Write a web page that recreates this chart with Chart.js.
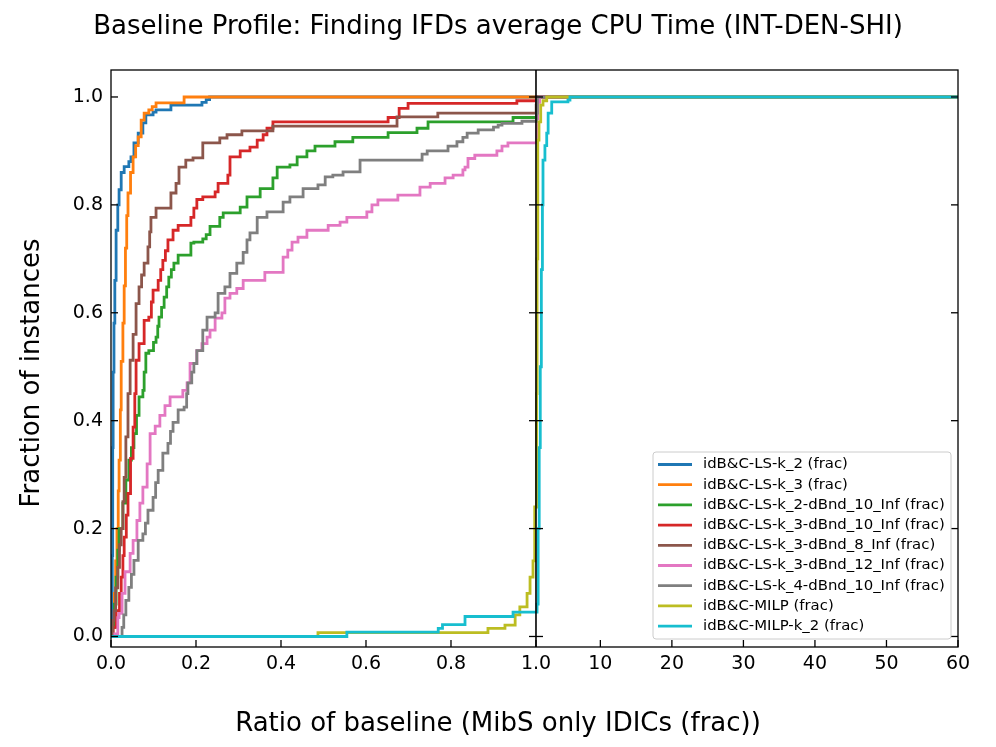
<!DOCTYPE html>
<html>
<head>
<meta charset="utf-8">
<script src="https://cdn.jsdelivr.net/npm/chart.js@4.4.1/dist/chart.umd.min.js"></script>
<style>
  html, body { margin: 0; padding: 0; background: #fff; }
  #wrap { width: 996px; height: 747px; position: relative; }
</style>
</head>
<body>
<div id="wrap"><canvas id="profileChart"></canvas></div>
<script>
// --- DATA (points are [ratio, fraction]; the curve jumps to fraction at ratio) ---
const SERIES_LABELS = [
    'idB&C-LS-k_2 (frac)',
    'idB&C-LS-k_3 (frac)',
    'idB&C-LS-k_2-dBnd_10_Inf (frac)',
    'idB&C-LS-k_3-dBnd_10_Inf (frac)',
    'idB&C-LS-k_3-dBnd_8_Inf (frac)',
    'idB&C-LS-k_3-dBnd_12_Inf (frac)',
    'idB&C-LS-k_4-dBnd_10_Inf (frac)',
    'idB&C-MILP (frac)',
    'idB&C-MILP-k_2 (frac)'
];
const SERIES_COLORS = ['#1f77b4', '#ff7f0e', '#2ca02c', '#d62728', '#8c564b', '#e377c2', '#7f7f7f', '#bcbd22', '#17becf'];

const LS_K2 = [[0,0],[0.003,0.15],[0.004,0.35],[0.005,0.49],[0.007,0.581],[0.009,0.66],[0.012,0.753],[0.016,0.80],[0.019,0.828],[0.024,0.86],[0.031,0.871],[0.042,0.88],[0.047,0.889],[0.054,0.915],[0.064,0.933],[0.075,0.952],[0.082,0.967],[0.099,0.972],[0.106,0.976],[0.141,0.985],[0.214,0.99],[0.224,0.995],[0.232,1.0],[60,1.0]];
const LS_K3 = [[0,0],[0.004,0.017],[0.008,0.08],[0.011,0.14],[0.014,0.20],[0.017,0.27],[0.019,0.327],[0.022,0.42],[0.024,0.51],[0.028,0.581],[0.031,0.65],[0.034,0.72],[0.037,0.78],[0.040,0.822],[0.046,0.86],[0.052,0.889],[0.058,0.91],[0.064,0.926],[0.071,0.957],[0.078,0.97],[0.089,0.976],[0.097,0.982],[0.106,0.989],[0.172,1.0],[60,1.0]];
const LS_K2_D10 = [[0,0],[0.004,0.017],[0.008,0.06],[0.012,0.11],[0.016,0.16],[0.019,0.20],[0.028,0.247],[0.035,0.29],[0.042,0.327],[0.048,0.35],[0.054,0.376],[0.060,0.41],[0.066,0.444],[0.075,0.456],[0.078,0.49],[0.082,0.525],[0.089,0.53],[0.100,0.545],[0.106,0.555],[0.110,0.575],[0.113,0.592],[0.119,0.61],[0.125,0.629],[0.131,0.648],[0.136,0.666],[0.142,0.68],[0.148,0.692],[0.158,0.707],[0.188,0.729],[0.195,0.731],[0.216,0.737],[0.224,0.745],[0.233,0.76],[0.256,0.777],[0.264,0.785],[0.304,0.796],[0.32,0.815],[0.351,0.83],[0.381,0.85],[0.391,0.87],[0.421,0.874],[0.438,0.889],[0.461,0.90],[0.48,0.909],[0.527,0.917],[0.569,0.925],[0.652,0.934],[0.72,0.942],[0.746,0.954],[0.946,0.962],[1.15,1.0],[60,1.0]];
const LS_K3_D10 = [[0,0],[0.005,0.017],[0.012,0.048],[0.020,0.08],[0.024,0.11],[0.028,0.15],[0.031,0.184],[0.036,0.225],[0.040,0.265],[0.046,0.33],[0.052,0.388],[0.056,0.45],[0.059,0.512],[0.066,0.543],[0.078,0.586],[0.089,0.592],[0.095,0.62],[0.099,0.642],[0.111,0.66],[0.117,0.68],[0.122,0.697],[0.128,0.715],[0.134,0.735],[0.146,0.753],[0.158,0.762],[0.188,0.777],[0.195,0.794],[0.202,0.81],[0.216,0.815],[0.245,0.824],[0.252,0.84],[0.275,0.855],[0.28,0.889],[0.304,0.90],[0.327,0.907],[0.344,0.92],[0.358,0.93],[0.367,0.942],[0.381,0.954],[0.652,0.962],[0.678,0.979],[0.699,0.988],[0.955,0.993],[1.05,1.0],[60,1.0]];
const LS_K3_D8 = [[0,0],[0.004,0.03],[0.007,0.048],[0.011,0.09],[0.016,0.128],[0.020,0.17],[0.024,0.20],[0.028,0.25],[0.031,0.295],[0.035,0.37],[0.040,0.45],[0.045,0.512],[0.052,0.56],[0.059,0.617],[0.066,0.648],[0.072,0.67],[0.078,0.692],[0.087,0.722],[0.091,0.75],[0.094,0.777],[0.106,0.794],[0.141,0.822],[0.153,0.84],[0.160,0.87],[0.176,0.883],[0.193,0.887],[0.216,0.915],[0.256,0.924],[0.273,0.93],[0.308,0.937],[0.381,0.946],[0.673,0.963],[0.769,0.97],[1.03,0.985],[1.08,1.0],[60,1.0]];
const LS_K3_D12 = [[0,0],[0.009,0.005],[0.016,0.035],[0.019,0.043],[0.026,0.08],[0.033,0.12],[0.045,0.154],[0.052,0.178],[0.061,0.215],[0.068,0.247],[0.075,0.277],[0.085,0.32],[0.092,0.376],[0.104,0.39],[0.115,0.41],[0.127,0.428],[0.139,0.444],[0.169,0.456],[0.179,0.47],[0.186,0.506],[0.202,0.53],[0.214,0.543],[0.226,0.555],[0.233,0.568],[0.245,0.59],[0.261,0.60],[0.268,0.627],[0.28,0.636],[0.296,0.645],[0.311,0.66],[0.362,0.675],[0.405,0.703],[0.416,0.716],[0.426,0.731],[0.44,0.74],[0.461,0.753],[0.511,0.762],[0.539,0.768],[0.555,0.777],[0.602,0.787],[0.614,0.80],[0.628,0.809],[0.675,0.818],[0.727,0.833],[0.751,0.84],[0.786,0.85],[0.805,0.855],[0.828,0.865],[0.833,0.87],[0.84,0.886],[0.856,0.892],[0.908,0.90],[0.92,0.909],[0.934,0.915],[1.1,0.96],[1.25,0.99],[1.5,1.0],[60,1.0]];
const LS_K4_D10 = [[0,0],[0.026,0.017],[0.030,0.04],[0.035,0.067],[0.042,0.091],[0.048,0.115],[0.054,0.141],[0.064,0.178],[0.075,0.19],[0.081,0.21],[0.087,0.234],[0.099,0.258],[0.105,0.285],[0.111,0.308],[0.122,0.34],[0.134,0.358],[0.140,0.38],[0.146,0.397],[0.158,0.42],[0.172,0.425],[0.178,0.45],[0.181,0.47],[0.190,0.49],[0.195,0.506],[0.202,0.53],[0.216,0.568],[0.226,0.592],[0.245,0.60],[0.252,0.636],[0.268,0.648],[0.28,0.673],[0.296,0.692],[0.311,0.712],[0.32,0.735],[0.327,0.748],[0.344,0.777],[0.367,0.787],[0.405,0.805],[0.421,0.815],[0.452,0.83],[0.487,0.837],[0.504,0.852],[0.522,0.855],[0.546,0.861],[0.586,0.883],[0.732,0.894],[0.744,0.90],[0.793,0.909],[0.814,0.917],[0.828,0.925],[0.838,0.933],[0.864,0.939],[0.90,0.944],[0.911,0.948],[0.92,0.951],[0.967,0.955],[1.1,0.97],[1.2,1.0],[60,1.0]];
const MILP = [[0,0],[0.487,0.007],[0.887,0.015],[0.927,0.021],[0.951,0.04],[0.962,0.055],[0.979,0.08],[0.986,0.11],[0.993,0.14],[0.997,0.24],[1.08,0.45],[1.15,0.7],[1.25,0.92],[1.42,0.954],[1.66,0.985],[1.98,0.993],[2.5,1.0],[60,1.0]];
const MILP_K2 = [[0,0],[0.555,0.008],[0.77,0.015],[0.78,0.022],[0.833,0.037],[0.946,0.045],[1.15,0.06],[1.3,0.2],[1.45,0.35],[1.6,0.5],[1.75,0.68],[1.9,0.8],[1.98,0.883],[2.25,0.91],[2.5,0.933],[2.7,0.97],[3.2,0.991],[5.47,0.994],[5.75,1.0],[60,1.0]];

const SERIES = [LS_K2, LS_K3, LS_K2_D10, LS_K3_D10, LS_K3_D8, LS_K3_D12, LS_K4_D10, MILP, MILP_K2];

const X_TICKS = [0, 0.2, 0.4, 0.6, 0.8, 1.0, 10, 20, 30, 40, 50, 60];
const X_TICK_LABELS = ['0.0', '0.2', '0.4', '0.6', '0.8', '1.0', '10', '20', '30', '40', '50', '60'];
const Y_TICKS = [0, 0.2, 0.4, 0.6, 0.8, 1.0];

const TITLE = 'Baseline Profile: Finding IFDs average CPU Time (INT-DEN-SHI)';
const X_LABEL = 'Ratio of baseline (MibS only IDICs (frac))';
const Y_LABEL = 'Fraction of instances';

const FONT = '"DejaVu Sans", sans-serif';

// broken axis: [0,1] on the left part, [1,60] squeezed on the right part
const RIGHT_SPAN = 0.993;
function tx(x) { return x <= 1 ? x : 1 + (x - 1) / 59 * RIGHT_SPAN; }

// --- PLUGIN: frame, inward ticks, legend, titles ---
const framePlugin = {
    id: 'frame',
    afterDraw(chart) {
        const { ctx, chartArea: { left, right, top, bottom }, scales: { x, y } } = chart;
        const seg = (x1, y1, x2, y2) => { ctx.beginPath(); ctx.moveTo(x1, y1); ctx.lineTo(x2, y2); ctx.stroke(); };
        ctx.save();
        ctx.strokeStyle = '#000';
        ctx.lineWidth = 1.3;
        ctx.strokeRect(left, top, right - left, bottom - top);

        const xm = x.getPixelForValue(1);
        ctx.lineWidth = 1.6;
        seg(xm, top, xm, bottom);

        ctx.lineWidth = 1.3;
        const TL = 7;
        Y_TICKS.forEach(v => {
            const py = y.getPixelForValue(v);
            seg(left, py, left + TL, py);
            seg(right - TL, py, right, py);
            seg(xm - TL, py, xm + TL, py);
        });
        X_TICKS.forEach(v => {
            const px = x.getPixelForValue(tx(v));
            seg(px, bottom, px, bottom - TL);
        });

        // legend box (lower right)
        const bx = 653, by = 452, bw = 298, bh = 187;
        ctx.fillStyle = 'rgba(255,255,255,0.85)';
        ctx.strokeStyle = '#cccccc';
        ctx.lineWidth = 1;
        ctx.beginPath();
        ctx.roundRect(bx, by, bw, bh, 3);
        ctx.fill();
        ctx.stroke();
        ctx.font = '14.9px ' + FONT;
        ctx.textAlign = 'left';
        ctx.textBaseline = 'middle';
        SERIES_LABELS.forEach((lab, i) => {
            const ly = 464.5 + i * 20.2;
            ctx.strokeStyle = SERIES_COLORS[i];
            ctx.lineWidth = 2.8;
            seg(658, ly, 692, ly);
            ctx.fillStyle = '#000';
            ctx.fillText(lab, 703, ly);
        });

        // titles
        ctx.fillStyle = '#000';
        ctx.textAlign = 'center';
        ctx.textBaseline = 'middle';
        ctx.font = '26px ' + FONT;
        ctx.fillText(TITLE, 498, 27);
        ctx.fillText(X_LABEL, 498, 724);
        ctx.translate(32, 373);
        ctx.rotate(-Math.PI / 2);
        ctx.fillText(Y_LABEL, 0, 0);
        ctx.restore();
    }
};

// --- CHART ---
const datasets = SERIES.map((pts, i) => ({
    label: SERIES_LABELS[i],
    data: pts.map(p => ({ x: tx(p[0]), y: p[1] })),
    borderColor: SERIES_COLORS[i],
    backgroundColor: SERIES_COLORS[i],
    borderWidth: 2.8,
    pointRadius: 0,
    stepped: 'before',
    fill: false,
    order: SERIES.length - i
}));

new Chart(document.getElementById('profileChart'), {
    type: 'line',
    data: { datasets: datasets },
    options: {
        responsive: true, maintainAspectRatio: false,
        animation: false,
        layout: { padding: { top: 70, right: 38, bottom: 0, left: 0 } },
        plugins: { legend: { display: false }, title: { display: false }, tooltip: { enabled: false } },
        scales: {
            x: {
                type: 'linear', min: 0, max: tx(60),
                grid: { display: false, drawTicks: false },
                border: { display: false },
                afterBuildTicks: s => { s.ticks = X_TICKS.map(v => ({ value: tx(v) })); },
                afterFit: s => { s.height = 100; },
                ticks: {
                    autoSkip: false, maxRotation: 0, padding: 6, color: '#000',
                    font: { family: FONT, size: 19 },
                    callback: (v, i) => X_TICK_LABELS[i]
                }
            },
            y: {
                type: 'linear', min: -0.0195, max: 1.05,
                grid: { display: false, drawTicks: false },
                border: { display: false },
                afterBuildTicks: s => { s.ticks = Y_TICKS.map(v => ({ value: v })); },
                afterFit: s => { s.width = 111; },
                ticks: {
                    padding: 8, color: '#000',
                    font: { family: FONT, size: 19 },
                    callback: v => v.toFixed(1)
                }
            }
        }
    },
    plugins: [framePlugin]
});
</script>
</body>
</html>
